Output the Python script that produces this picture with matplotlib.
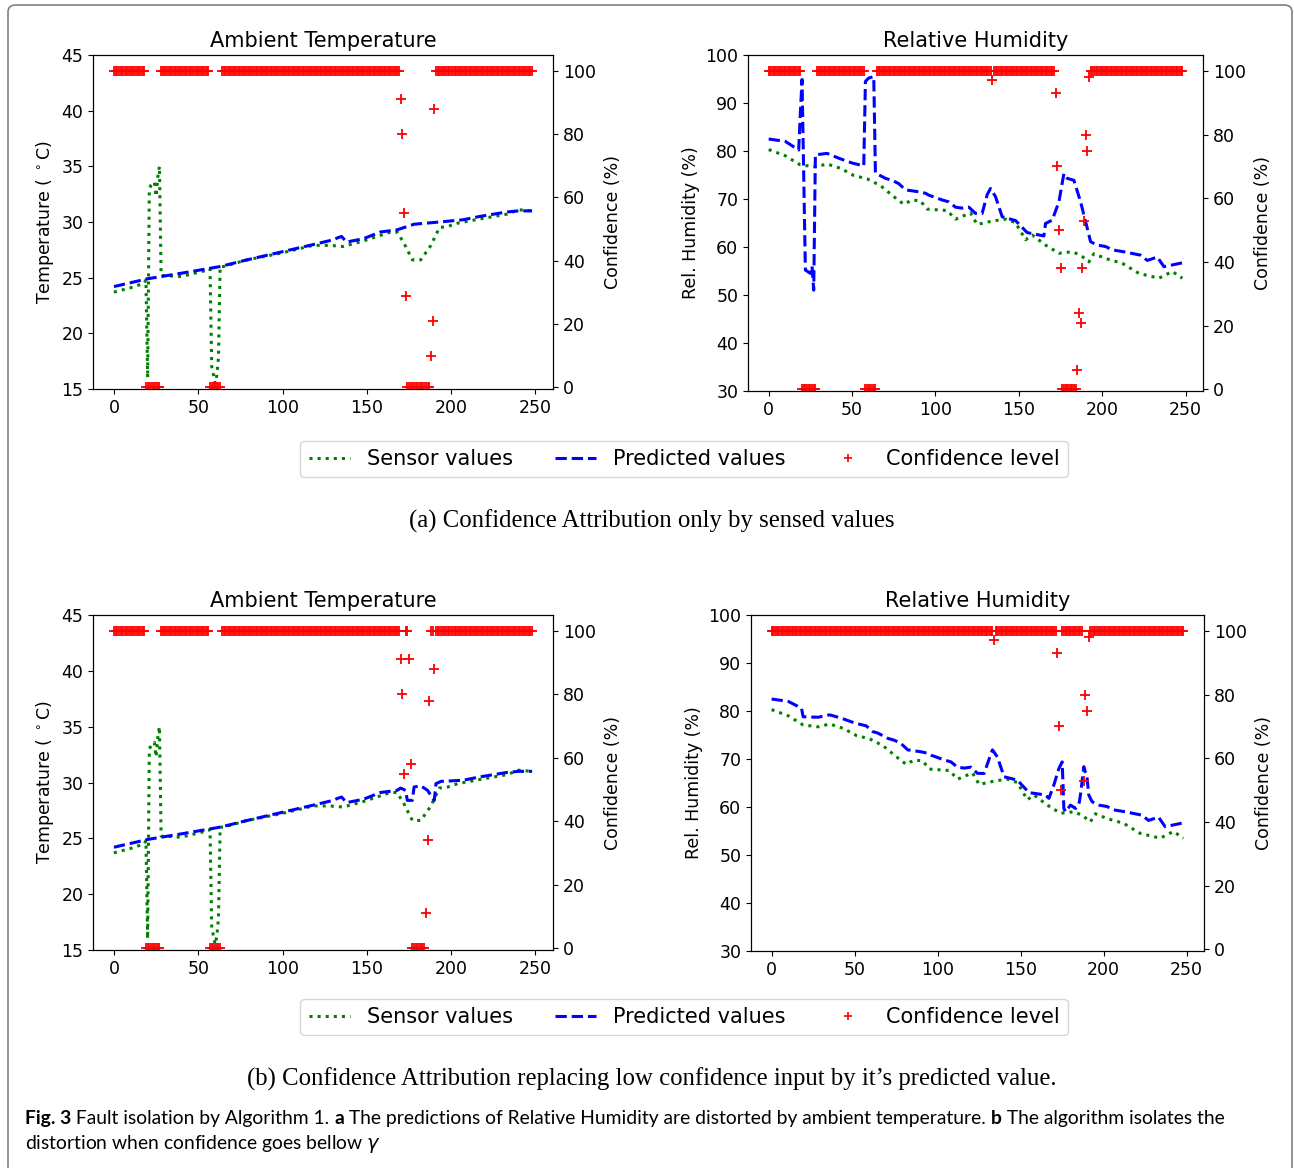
import matplotlib.pyplot as plt
import numpy as np
from matplotlib.lines import Line2D
from matplotlib.patches import FancyBboxPatch

plt.rcParams['font.family'] = 'DejaVu Sans'
plt.rcParams['font.size'] = 12.5

# ---- values: (time step, value) ----
temp_sensor = [(0, 23.7), (10, 24.1), (18, 24.5), (19, 24.8), (20, 16.0), (21, 33.0), (22, 33.3),
               (24, 33.6), (25, 32.3), (26, 34.0), (27, 35.0), (28, 25.2), (40, 25.1), (56, 25.7),
               (57, 25.8), (58, 17.0), (59, 16.3), (60, 15.5), (61, 16.2), (62, 17.8), (63, 26.0),
               (65, 26.0), (79, 26.6), (99, 27.2), (118, 27.9), (128, 27.9), (136, 27.8), (148, 28.3),
               (164, 29.1), (168, 29.1), (172, 28.1), (177, 26.6), (182, 26.6), (188, 27.9), (193, 29.5),
               (198, 29.6), (204, 29.9), (218, 30.3), (233, 30.7), (240, 31.1), (248, 31.0)]

temp_pred_a = [(0, 24.2), (20, 24.9), (40, 25.4), (63, 26.0), (79, 26.6), (99, 27.3), (119, 28.0),
               (130, 28.4), (133, 28.6), (135, 28.7), (138, 28.2), (148, 28.5), (158, 29.1), (168, 29.3),
               (178, 29.8), (193, 30.0), (207, 30.2), (217, 30.5), (233, 30.9), (240, 31.0), (248, 31.0)]

temp_pred_b = [(0, 24.2), (20, 24.9), (40, 25.4), (63, 26.0), (79, 26.6), (99, 27.3), (119, 28.0),
               (130, 28.4), (133, 28.6), (135, 28.7), (138, 28.2), (148, 28.5), (158, 29.1), (168, 29.3),
               (170, 29.5), (173, 29.3), (174, 28.4), (177, 28.4), (178, 29.6), (182, 29.7), (186, 29.3),
               (189, 28.6), (190, 28.4), (191, 29.9), (194, 30.1), (207, 30.2), (217, 30.5), (233, 30.9),
               (240, 31.0), (248, 31.0)]

hum_sensor = [(0, 80.3), (10, 79.0), (19, 77.1), (28, 76.7), (35, 77.3), (43, 76.4), (51, 74.9),
              (59, 74.2), (67, 72.8), (75, 70.5), (81, 68.9), (86, 69.8), (91, 69.6), (95, 67.9),
              (107, 67.6), (112, 65.8), (121, 67.1), (125, 64.7), (134, 65.4), (142, 65.8), (148, 65.1),
              (154, 61.5), (158, 62.5), (166, 60.4), (174, 58.7), (182, 59.0), (187, 58.3), (192, 56.9),
              (195, 58.6), (202, 57.6), (212, 56.6), (222, 54.5), (228, 54.0), (234, 53.5), (242, 54.9),
              (248, 53.5)]

hum_pred_a = [(0, 82.5), (10, 82.0), (18, 80.2), (19, 88.0), (20, 94.9), (21, 75.0), (22, 55.2),
              (25, 54.5), (26, 56.0), (27, 51.0), (28, 79.2), (35, 79.5), (42, 78.5), (50, 77.5),
              (57, 76.9), (58, 94.5), (60, 95.2), (63, 95.5), (64, 75.4), (70, 74.3), (74, 73.9),
              (78, 73.2), (82, 71.9), (90, 71.5), (94, 71.2), (96, 70.8), (104, 69.8), (108, 69.4),
              (112, 68.3), (116, 68.1), (120, 68.3), (124, 67.0), (128, 67.0), (131, 70.9), (133, 72.2),
              (136, 70.5), (140, 66.3), (148, 65.5), (155, 63.0), (165, 62.3), (166, 64.9), (170, 65.6),
              (174, 69.4), (177, 75.3), (179, 74.3), (183, 73.9), (187, 69.4), (190, 65.3), (193, 61.1),
              (197, 60.4), (202, 60.1), (206, 59.4), (213, 59.0), (223, 58.3), (227, 57.2), (233, 57.9),
              (237, 55.9), (248, 56.7)]

hum_pred_b = [(0, 82.5), (10, 82.0), (18, 80.6), (19, 78.8), (28, 78.7), (35, 79.2), (42, 78.5),
              (50, 77.5), (57, 76.9), (61, 75.7), (64, 75.4), (70, 74.3), (74, 73.9), (78, 73.2),
              (82, 71.9), (90, 71.5), (94, 71.2), (96, 70.8), (104, 69.8), (108, 69.4), (112, 68.3),
              (116, 68.1), (120, 68.3), (124, 67.0), (128, 67.0), (131, 70.0), (133, 71.9), (136, 70.4),
              (140, 66.3), (148, 65.6), (155, 63.0), (165, 62.5), (167, 61.8), (170, 64.6), (173, 68.0),
              (175, 69.4), (176, 59.7), (177, 59.0), (180, 60.4), (183, 59.7), (185, 60.4), (186, 62.5),
              (188, 68.4), (190, 66.0), (191, 62.5), (193, 61.1), (197, 60.4), (202, 60.1), (206, 59.4),
              (213, 59.0), (223, 58.3), (227, 57.2), (233, 57.9), (237, 55.9), (248, 56.7)]

# confidence as runs: (first step, last step, confidence %)
conf_temp_a = [(0, 18, 100), (19, 27, 0), (28, 56, 100), (57, 63, 0), (64, 169, 100), (170, 170, 91),
               (171, 171, 80), (172, 172, 55), (173, 173, 29), (174, 187, 0), (188, 188, 10),
               (189, 189, 21), (190, 190, 88), (191, 248, 100)]
conf_hum_a = [(0, 19, 100), (20, 28, 0), (29, 57, 100), (58, 64, 0), (65, 133, 100), (134, 134, 97),
              (135, 171, 100), (172, 172, 93), (173, 173, 70), (174, 174, 50), (175, 175, 38),
              (176, 184, 0), (185, 185, 6), (186, 186, 24), (187, 187, 21), (188, 188, 38),
              (189, 189, 53), (190, 190, 80), (191, 191, 75), (192, 192, 98), (193, 248, 100)]
conf_temp_b = [(0, 18, 100), (19, 27, 0), (28, 56, 100), (57, 63, 0), (64, 169, 100), (170, 170, 91),
               (171, 171, 80), (172, 172, 55), (173, 174, 100), (175, 175, 91), (176, 176, 58),
               (177, 184, 0), (185, 185, 11), (186, 186, 34), (187, 187, 78), (188, 189, 100),
               (190, 190, 88), (191, 248, 100)]
conf_hum_b = [(0, 133, 100), (134, 134, 97), (135, 171, 100), (172, 172, 93), (173, 173, 70),
              (174, 174, 50), (175, 187, 100), (188, 188, 53), (189, 189, 80), (190, 190, 75),
              (191, 191, 98), (192, 248, 100)]


def expand_runs(runs):
    xs, ys = [], []
    for first, last, value in runs:
        for step in range(first, last + 1):
            xs.append(step)
            ys.append(value)
    return xs, ys


W, H = 1294, 1168
fig = plt.figure(figsize=(W / 100, H / 100), dpi=100)


def draw_panel(rect, title, sensor, pred, conf, ylim, yticks, ylabel):
    ax = fig.add_axes(rect)
    sx, sy = zip(*sensor)
    px, py = zip(*pred)
    ax.plot(sx, sy, ':', color='g', lw=2.2)
    ax.plot(px, py, '--', color='b', lw=2.2)
    ax.set_xlim(-12.4, 260.4)
    ax.set_ylim(*ylim)
    ax.set_xticks([0, 50, 100, 150, 200, 250])
    ax.set_yticks(yticks)
    ax.set_ylabel(ylabel)
    ax.set_title(title, fontsize=15)

    ax2 = ax.twinx()
    cx, cy = expand_runs(conf)
    ax2.plot(cx, cy, '+', color='r', ms=7.5, mew=1.3)
    ax2.set_ylim(-0.5, 105)
    ax2.set_yticks([0, 20, 40, 60, 80, 100])
    ax2.set_ylabel('Confidence (%)', labelpad=6)
    return ax


tlabel = 'Temperature ( $^\\circ$C)'
hlabel = 'Rel. Humidity (%)'
draw_panel([93 / W, 1 - 389 / H, 460 / W, 334 / H], 'Ambient Temperature',
           temp_sensor, temp_pred_a, conf_temp_a, (15, 45), range(15, 46, 5), tlabel)
draw_panel([748 / W, 1 - 391 / H, 455 / W, 336 / H], 'Relative Humidity',
           hum_sensor, hum_pred_a, conf_hum_a, (30, 100), range(30, 101, 10), hlabel)
draw_panel([93 / W, 1 - 950 / H, 460 / W, 335 / H], 'Ambient Temperature',
           temp_sensor, temp_pred_b, conf_temp_b, (15, 45), range(15, 46, 5), tlabel)
draw_panel([751 / W, 1 - 951 / H, 453 / W, 336 / H], 'Relative Humidity',
           hum_sensor, hum_pred_b, conf_hum_b, (30, 100), range(30, 101, 10), hlabel)

handles = [Line2D([], [], ls=':', color='g', lw=2.2),
           Line2D([], [], ls='--', color='b', lw=2.2),
           Line2D([], [], ls='', marker='+', color='r', ms=6, mew=1.2)]
labels = ['Sensor values', 'Predicted values', 'Confidence level']
for yc in (1 - 459 / H, 1 - 1017 / H):
    fig.legend(handles, labels, loc='center', bbox_to_anchor=(684 / W, yc), ncol=3, fontsize=15)

serif = 'Liberation Serif'
fig.text(652 / W, 1 - 521 / H, '(a) Confidence Attribution only by sensed values',
         ha='center', va='center', family=serif, fontsize=17.8)
fig.text(652 / W, 1 - 1079 / H,
         '(b) Confidence Attribution replacing low confidence input by it\u2019s predicted value.',
         ha='center', va='center', family=serif, fontsize=17.8)

# caption
cap = fig.add_axes([0, 0, 1, 1])
cap.axis('off')
cap.set_xlim(0, 1)
cap.set_ylim(0, 1)
csize = 13.9
cfont = dict(family='Lato', fontsize=csize, va='baseline', ha='left')
pieces = [('Fig. 3', 'bold'), (' Fault isolation by Algorithm 1. ', 'normal'), ('a', 'bold'),
          (' The predictions of Relative Humidity are distorted by ambient temperature. ', 'normal'),
          ('b', 'bold'), (' The algorithm isolates the', 'normal')]
prev = cap.text(25 / W, 1 - 1124 / H, pieces[0][0], fontweight=pieces[0][1], **cfont)
for txt, weight in pieces[1:]:
    prev = cap.annotate(txt, xy=(1, 0), xycoords=prev, fontweight=weight,
                        family='Lato', fontsize=csize, va='bottom', ha='left')
cap.text(25 / W, 1 - 1149 / H, 'distortion when confidence goes bellow $\\gamma$', **cfont)

border = FancyBboxPatch((8 / W, -0.02), 1284 / W, 1.02 - 5 / H,
                        boxstyle='round,pad=0,rounding_size=0.006',
                        transform=fig.transFigure, fill=False, edgecolor='#808080', lw=1.2)
fig.add_artist(border)

fig.savefig('out.png', dpi=100)
